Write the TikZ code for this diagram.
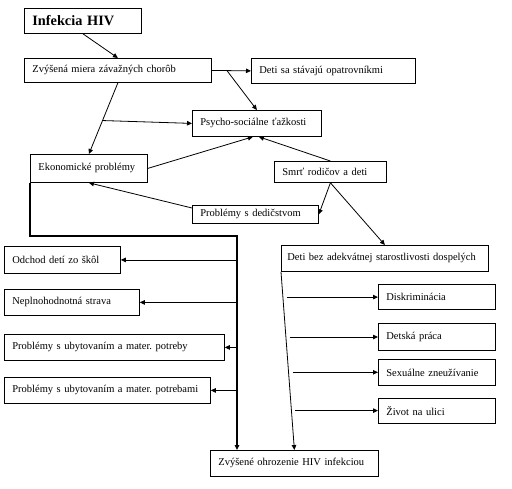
\documentclass[tikz,border=0pt]{standalone}
\usepackage{fontspec}
\setmainfont{Liberation Serif}
\usetikzlibrary{arrows.meta, positioning, calc}
\tikzset{
  hbox/.style ={rectangle, draw=black, line width=0.8pt, anchor=north west, align=left,
                inner xsep=8pt, inner ysep=2pt, font=\rmfamily\frenchspacing\fontsize{10.5}{12}\selectfont},
  hboxb/.style={hbox, font=\rmfamily\bfseries\fontsize{14.3}{16}\selectfont},
  harr/.style ={-{Triangle[length=5pt, width=4.5pt]}, line width=0.8pt},
  htrunk/.style={harr, line width=1.3pt},
}
\begin{document}
\begin{tikzpicture}[x=1pt, y=-1pt]
  \useasboundingbox (0,0) rectangle (512,488);
  % top part
  \node[hboxb, text width=101pt, minimum height=25pt] (hiv) at (24,8) {Infekcia HIV};
  \node[hbox, text width=171pt, minimum height=24pt] (chor) at (24,58) {Zvýšená miera závažných chorôb};
  \node[hbox, text width=148pt, minimum height=25pt] (opat) at (251,58) {Deti sa stávajú opatrovníkmi};
  \node[hbox, text width=113pt, minimum height=26pt] (psych) at (192,110) {Psycho-sociálne ťažkosti};
  \node[hbox, text width=101pt, minimum height=28pt] (ekon) at (30,154) {Ekonomické problémy};
  \node[hbox, text width=96pt, minimum height=21pt] (smrt) at (274,161) {Smrť rodičov a deti};
  \node[hbox, text width=110pt, minimum height=18pt] (dedic) at (192,205) {Problémy s dedičstvom};
  \node[hbox, inner xsep=6pt, text width=195pt, minimum height=26pt] (detibez) at (281,245) {Deti bez adekvátnej starostlivosti dospelých};
  % right column
  \node[hbox, text width=101pt, minimum height=25pt] (disk) at (378,284) {Diskriminácia};
  \node[hbox, text width=101pt, minimum height=27pt] (prac) at (378,323) {Detská práca};
  \node[hbox, text width=101pt, minimum height=26pt] (sex) at (378,359) {Sexuálne zneužívanie};
  \node[hbox, text width=101pt, minimum height=25pt] (ziv) at (378,398) {Život na ulici};
  % left column
  \node[hbox, text width=100pt, minimum height=27pt] (odch) at (4,246) {Odchod detí zo škôl};
  \node[hbox, text width=119pt, minimum height=26pt] (strava) at (4,289) {Neplnohodnotná strava};
  \node[hbox, text width=204pt, minimum height=26pt] (potreby) at (4,334) {Problémy s ubytovaním a mater. potreby};
  \node[hbox, text width=190pt, minimum height=26pt] (potrebami) at (4,377) {Problémy s ubytovaním a mater. potrebami};
  \node[hbox, text width=152pt, minimum height=26pt] (ohroz) at (210,450) {Zvýšené ohrozenie HIV infekciou};

  \draw[harr] (hiv.south) -- (chor.north);
  \draw[harr] (chor.east) -- (opat.west);
  \coordinate (c1) at ($(chor.east)+(15,0)$);
  \draw[harr] (c1) -- (psych.north);
  \draw[harr] (chor.south) -- (ekon.north);
  \coordinate (c2) at ($(chor.south)!0.53!(ekon.north)$);
  \draw[harr] (c2) -- (psych.west);
  \draw[harr] (ekon.east) -- ($(psych.south)+(-4,0)$);
  \draw[harr] (smrt.north) -- ($(psych.south)+(2,0)$);
  \draw[harr] ($(dedic.north west)+(0,3)$) -- (ekon.south);
  \draw[harr] (smrt.south) -- (dedic.east);
  \draw[harr] (smrt.south) -- (detibez.north);

  % trunk down to the bottom box
  \coordinate (j) at (237,236);
  \draw[htrunk] (ekon.south west) |- (j) -- (j |- ohroz.north);
  \foreach \n in {odch, strava, potreby, potrebami}
    \draw[harr] (j |- \n.east) -- (\n.east);

  \draw[harr] (detibez.south west) -- (ohroz.north);
  \foreach \n/\t in {disk/0.142, prac/0.366, sex/0.564, ziv/0.779} {
    \coordinate (p) at ($(detibez.south west)!\t!(ohroz.north)$);
    \draw[harr] ($(p)+(4,0)$) -- (p -| \n.west);
  }
\end{tikzpicture}
\end{document}
